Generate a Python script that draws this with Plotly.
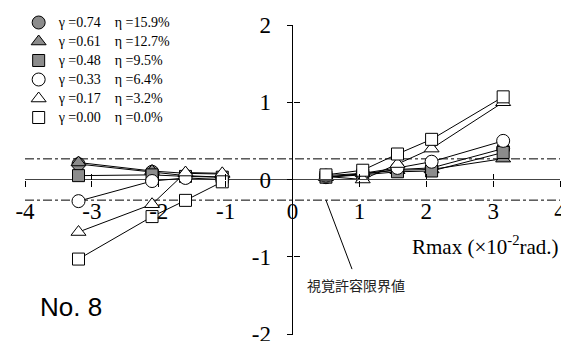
import plotly.graph_objects as go

# ---------------- data ----------------
gammas = ["0.74", "0.61", "0.48", "0.33", "0.17", "0.00"]
etas = ["15.9%", "12.7%", "9.5%", "6.4%", "3.2%", "0.0%"]

x_neg = [-3.2, -2.1, -1.6, -1.05]
x_pos = [0.5, 1.05, 1.57, 2.08, 3.15]

y_neg_074 = [0.20, 0.10, 0.05, 0.03]
y_neg_061 = [0.22, 0.11, 0.08, 0.07]
y_neg_048 = [0.05, 0.06, 0.04, 0.03]
y_neg_033 = [-0.28, -0.02, 0.02, 0.00]
y_neg_017 = [-0.68, -0.32, 0.09, 0.08]
y_neg_000 = [-1.03, -0.48, -0.27, -0.03]

y_pos_074 = [0.03, 0.07, 0.13, 0.15, 0.40]
y_pos_061 = [0.03, 0.08, 0.12, 0.13, 0.27]
y_pos_048 = [0.03, 0.06, 0.10, 0.11, 0.35]
y_pos_033 = [0.05, 0.08, 0.15, 0.23, 0.50]
y_pos_017 = [0.04, 0.00, 0.20, 0.40, 1.00]
y_pos_000 = [0.06, 0.12, 0.33, 0.52, 1.07]

visual_limit = 0.267  # 視覚許容限界値

x_ticks = [-4, -3, -2, -1, 0, 1, 2, 3, 4]
x_ticktext = ["-4", "-3", "-2", "-1", "0", "1", "2", "3", "4"]
y_ticks = [-2, -1, 0, 1, 2]
y_ticktext = ["-2", "-1", "0", "1", "2"]

# ---------------- styles ----------------
GREY = "#8c8c8c"
series = [
    (y_neg_074, y_pos_074, "circle", GREY, 13),
    (y_neg_061, y_pos_061, "triangle-up", GREY, 13),
    (y_neg_048, y_pos_048, "square", GREY, 12),
    (y_neg_033, y_pos_033, "circle", "white", 13),
    (y_neg_017, y_pos_017, "triangle-up", "white", 13),
    (y_neg_000, y_pos_000, "square", "white", 12),
]

SERIF = "Liberation Serif, Times New Roman, serif"
fig = go.Figure()

# threshold lines
for s in (1, -1):
    fig.add_trace(go.Scatter(x=[-4, 4], y=[s * visual_limit] * 2, mode="lines",
                             line=dict(color="black", width=1, dash="dashdot"),
                             showlegend=False, hoverinfo="skip"))

# connecting lines
for yn, yp, sym, col, sz in series:
    fig.add_trace(go.Scatter(x=x_neg + [None] + x_pos, y=yn + [None] + yp,
                             mode="lines", line=dict(color="black", width=1),
                             showlegend=False, hoverinfo="skip"))

# markers
for (yn, yp, sym, col, sz), g, e in zip(series, gammas, etas):
    fig.add_trace(go.Scatter(
        x=x_neg + x_pos, y=yn + yp, mode="markers",
        marker=dict(symbol=sym, size=sz, color=col, line=dict(color="black", width=1)),
        name=f'<span style="font-size:14px">γ ={g}\u2003η ={e}</span>'))

# invisible anchors for the helper axes
for xa, ya in (("x2", "y2"), ("x3", "y3"), ("x4", "y")):
    fig.add_trace(go.Scatter(x=[0.001], y=[0], xaxis=xa, yaxis=ya, mode="markers",
                             marker=dict(size=1, opacity=0), showlegend=False,
                             hoverinfo="skip"))

base = dict(showgrid=False, showline=False, automargin=False,
            tickcolor="black", tickwidth=1)
free = dict(base, anchor="free", position=0.5)

# the page has an 8px body margin, so the figure is 561x333 and sits at (8, 8)
fig.update_layout(
    template="none",
    width=561, height=333,
    margin=dict(l=17, r=9, t=17, b=7, autoexpand=False),
    paper_bgcolor="white", plot_bgcolor="rgba(0,0,0,0)",
    showlegend=True,
    legend=dict(xref="container", yref="container", x=0.019, y=1.0,
                xanchor="left", yanchor="top",
                font=dict(family=SERIF, size=12, color="black"),
                bgcolor="rgba(0,0,0,0)", borderwidth=0,
                tracegroupgap=0, itemwidth=30),
    # x axis with labels, crossing the plot at y = 0
    xaxis=dict(free, range=[-4, 4],
               zeroline=True, zerolinecolor="black", zerolinewidth=1,
               tickmode="array", tickvals=x_ticks, ticktext=x_ticktext,
               ticks="outside", ticklen=11, tickcolor="rgba(0,0,0,0)",
               ticklabeloverflow="allow",
               tickfont=dict(family=SERIF, size=23, color="black")),
    # helper x axis whose left edge is x = 0; the labelled y axis is anchored to it
    xaxis4=dict(base, domain=[0.5, 1], range=[0, 4], visible=False, anchor="y"),
    yaxis=dict(base, range=[-2, 2], anchor="x4", side="left",
               zeroline=True, zerolinecolor="#444444", zerolinewidth=1,
               tickmode="array", tickvals=y_ticks, ticktext=y_ticktext,
               ticks="outside", ticklen=16, tickcolor="rgba(0,0,0,0)",
               ticklabeloverflow="allow",
               tickfont=dict(family=SERIF, size=23, color="black")),
    # crossing tick marks
    xaxis2=dict(free, range=[-4, 4], overlaying="x", zeroline=False,
                tickmode="array", tickvals=x_ticks, ticks="outside", ticklen=6,
                showticklabels=False),
    xaxis3=dict(free, range=[-4, 4], overlaying="x", zeroline=False,
                tickmode="array", tickvals=x_ticks, ticks="inside", ticklen=6,
                showticklabels=False),
    yaxis2=dict(free, range=[-2, 2], overlaying="y", side="left", zeroline=False,
                tickmode="array", tickvals=y_ticks, ticks="outside", ticklen=6,
                showticklabels=False),
    yaxis3=dict(free, range=[-2, 2], overlaying="y", side="left", zeroline=False,
                tickmode="array", tickvals=y_ticks, ticks="inside", ticklen=6,
                showticklabels=False),
)

fig.add_annotation(x=0.11, y=2.04, xref="x", yref="y", xanchor="left", yanchor="middle",
                   text="rRe (×10<sup>-2</sup>rad.)", showarrow=False,
                   font=dict(family=SERIF, size=21, color="black"))
fig.add_annotation(x=1.76, y=-0.86, xref="x", yref="y", xanchor="left", yanchor="middle",
                   text="Rmax (×10<sup>-2</sup>rad.)", showarrow=False,
                   font=dict(family=SERIF, size=21, color="black"))
fig.add_annotation(x=0.95, y=-1.37, xref="x", yref="y", xanchor="center", yanchor="middle",
                   text="視覚許容限界値", showarrow=False,
                   font=dict(family="Noto Sans CJK JP", size=14, color="#222222"))
fig.add_annotation(x=-3.31, y=-1.65, xref="x", yref="y", xanchor="center", yanchor="middle",
                   text="No. 8", showarrow=False,
                   font=dict(family="Liberation Sans, Arial, sans-serif",
                             size=26, color="black"))
fig.add_shape(type="line", xref="x", yref="y", x0=0.5, y0=-visual_limit, x1=0.89, y1=-1.16,
              line=dict(color="black", width=1))

fig.write_html("out.html")
